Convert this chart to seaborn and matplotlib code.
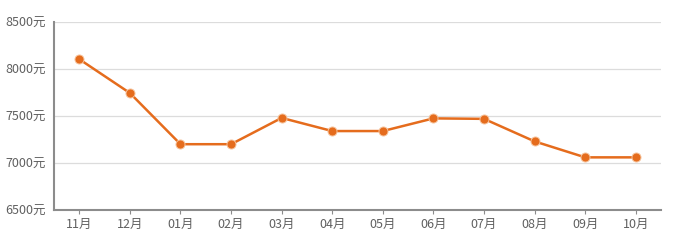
import matplotlib
matplotlib.use("Agg")
import matplotlib.pyplot as plt
import seaborn as sns
import pandas as pd

months = ["11月", "12月", "01月", "02月", "03月", "04月", "05月", "06月", "07月", "08月", "09月", "10月"]
prices = [8105, 7745, 7200, 7200, 7480, 7340, 7340, 7475, 7470, 7230, 7060, 7060]
yticks = [6500, 7000, 7500, 8000, 8500]
ytick_labels = ["6500元", "7000元", "7500元", "8000元", "8500元"]

sns.set_theme(style="white")
plt.rcParams['font.family'] = ['Noto Sans CJK SC', 'DejaVu Sans']

df = pd.DataFrame({"month": months, "price": prices})
df["x"] = range(len(months))

fig = plt.figure(figsize=(6.76, 2.43), dpi=100)
ax = fig.add_axes([0.0799, 0.136, 0.898, 0.773])

color = "#E56C1D"
sns.lineplot(data=df, x="x", y="price", ax=ax, color=color, linewidth=1.8,
             marker="o", markersize=6.5, markeredgecolor="#F6C29A", markeredgewidth=0.7)

ax.set_xlim(-0.5, len(months) - 0.5)
ax.set_ylim(6500, 8500)
ax.set_yticks(yticks)
ax.set_yticklabels(ytick_labels)
ax.set_xticks(list(range(len(months))))
ax.set_xticklabels(months)
ax.set_xlabel("")
ax.set_ylabel("")

for y in yticks[1:]:
    ax.axhline(y, color="#DCDCDC", linewidth=0.9, zorder=0)

for s in ["top", "right"]:
    ax.spines[s].set_visible(False)
for s in ["left", "bottom"]:
    ax.spines[s].set_color("#8C8C8C")
    ax.spines[s].set_linewidth(1.5)

ax.tick_params(axis="x", direction="out", length=3, width=0.8, color="#8C8C8C",
               labelsize=9, labelcolor="#606060", pad=3, bottom=True)
ax.tick_params(axis="y", length=0, labelsize=9, labelcolor="#606060", pad=6)

fig.savefig("out.png", dpi=100)
